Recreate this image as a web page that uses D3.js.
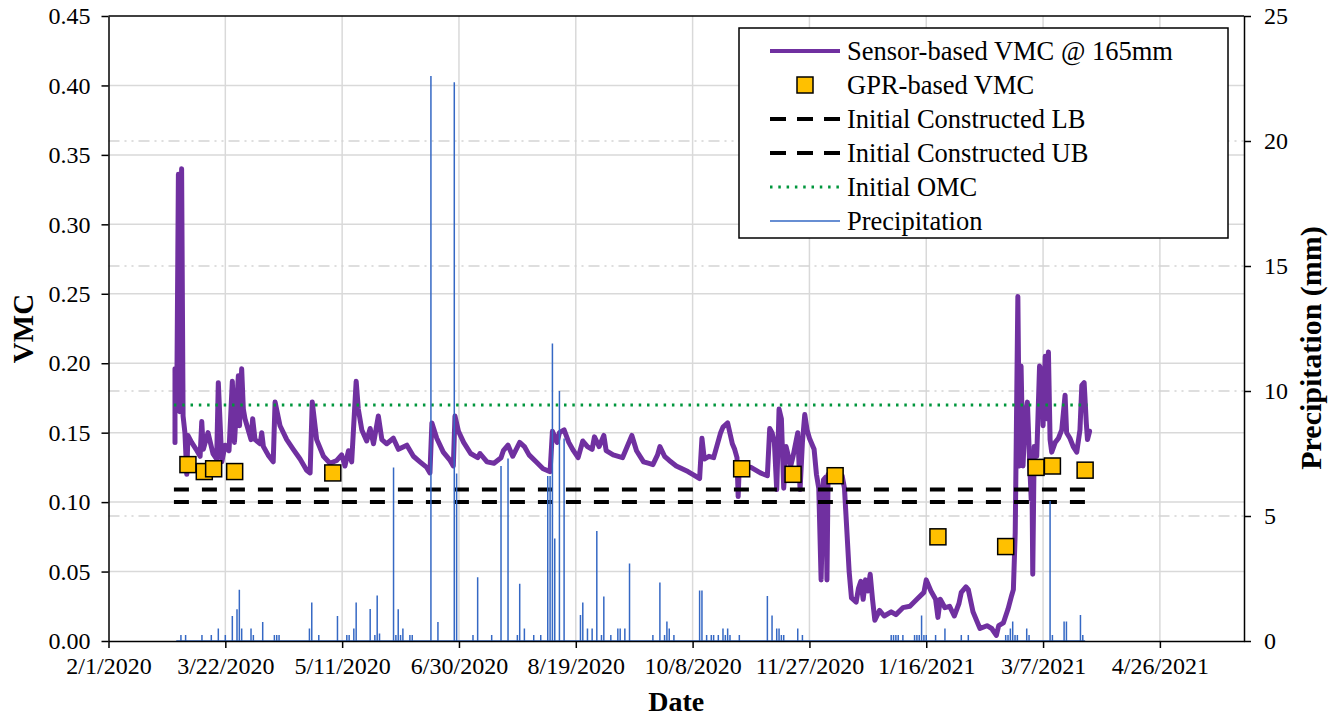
<!DOCTYPE html>
<html>
<head>
<meta charset="utf-8">
<script src="https://cdn.jsdelivr.net/npm/d3@7"></script>
<style>
  body { margin: 0; background: #fff; }
  svg text { font-family: "Liberation Serif", "Times New Roman", serif; fill: #000; }
</style>
</head>
<body>
<svg id="chart" width="1336" height="717"></svg>
<script>
// ---- data ----
const xTickLabels = ['2/1/2020', '3/22/2020', '5/11/2020', '6/30/2020', '8/19/2020', '10/8/2020',
                     '11/27/2020', '1/16/2021', '3/7/2021', '4/26/2021'];
const vmcTicks  = [0, 0.05, 0.10, 0.15, 0.20, 0.25, 0.30, 0.35, 0.40, 0.45];
const rainTicks = [0, 5, 10, 15, 20, 25];

const legendLabels = ['Sensor-based VMC @ 165mm', 'GPR-based VMC', 'Initial Constructed LB',
                      'Initial Constructed UB', 'Initial OMC', 'Precipitation'];

// initial construction bounds and optimum moisture
const lbValue  = 0.100;
const ubValue  = 0.109;
const omcValue = 0.170;
const refSpan  = ['2020-02-29', '2021-03-26'];

// sensor-based VMC @ 165 mm  [date (hour), VMC]
const sensorVMC = [
  ['2020-02-29 11', 0.143], ['2020-02-29 11', 0.196], ['2020-03-01 07', 0.190], ['2020-03-01 22', 0.336],
  ['2020-03-02 12', 0.165], ['2020-03-03 07', 0.340], ['2020-03-03 22', 0.162], ['2020-03-04 17', 0.150],
  ['2020-03-05 12', 0.120], ['2020-03-06 00', 0.148], ['2020-03-07 14', 0.143], ['2020-03-09 12', 0.138],
  ['2020-03-11 05', 0.133], ['2020-03-11 22', 0.158], ['2020-03-12 14', 0.138], ['2020-03-14 14', 0.150],
  ['2020-03-16 17', 0.135], ['2020-03-18 07', 0.131], ['2020-03-19 00', 0.186], ['2020-03-20 12', 0.129],
  ['2020-03-21 22', 0.141], ['2020-03-23 14', 0.137], ['2020-03-25 00', 0.187], ['2020-03-25 22', 0.143],
  ['2020-03-27 14', 0.191], ['2020-03-28 02', 0.155], ['2020-03-29 00', 0.196], ['2020-03-29 17', 0.167],
  ['2020-03-30 10', 0.160], ['2020-04-02 00', 0.145], ['2020-04-02 17', 0.160], ['2020-04-03 17', 0.145],
  ['2020-04-05 22', 0.142], ['2020-04-06 14', 0.150], ['2020-04-07 07', 0.140], ['2020-04-09 07', 0.134],
  ['2020-04-11 12', 0.129], ['2020-04-12 07', 0.172], ['2020-04-14 10', 0.155], ['2020-04-17 07', 0.145],
  ['2020-04-20 02', 0.138], ['2020-04-23 00', 0.131], ['2020-04-25 19', 0.123], ['2020-04-27 07', 0.121],
  ['2020-04-28 05', 0.172], ['2020-04-30 02', 0.145], ['2020-05-03 00', 0.133], ['2020-05-05 19', 0.128],
  ['2020-05-08 17', 0.130], ['2020-05-10 19', 0.134], ['2020-05-12 05', 0.126], ['2020-05-13 17', 0.137],
  ['2020-05-15 02', 0.129], ['2020-05-17 00', 0.187], ['2020-05-17 22', 0.167], ['2020-05-19 10', 0.152],
  ['2020-05-21 12', 0.144], ['2020-05-23 00', 0.153], ['2020-05-24 10', 0.142], ['2020-05-26 12', 0.162],
  ['2020-05-28 00', 0.145], ['2020-05-30 02', 0.142], ['2020-06-01 22', 0.146], ['2020-06-04 02', 0.138],
  ['2020-06-07 17', 0.141], ['2020-06-10 12', 0.133], ['2020-06-13 07', 0.129], ['2020-06-16 05', 0.125],
  ['2020-06-17 14', 0.121], ['2020-06-18 10', 0.157], ['2020-06-20 12', 0.146], ['2020-06-23 07', 0.136],
  ['2020-06-26 05', 0.130], ['2020-06-27 14', 0.126], ['2020-06-28 07', 0.162], ['2020-06-29 19', 0.151],
  ['2020-07-02', 0.143], ['2020-07-05', 0.135], ['2020-07-08', 0.132], ['2020-07-09', 0.135],
  ['2020-07-12', 0.129], ['2020-07-15', 0.128], ['2020-07-18', 0.132], ['2020-07-19', 0.137],
  ['2020-07-21', 0.141], ['2020-07-23', 0.133], ['2020-07-26', 0.143], ['2020-07-28', 0.140],
  ['2020-07-30', 0.134], ['2020-08-02', 0.129], ['2020-08-05', 0.124], ['2020-08-08', 0.122],
  ['2020-08-09', 0.151], ['2020-08-11', 0.143], ['2020-08-12', 0.150], ['2020-08-14', 0.152],
  ['2020-08-16', 0.143], ['2020-08-18', 0.137], ['2020-08-20', 0.132], ['2020-08-22', 0.144],
  ['2020-08-24', 0.140], ['2020-08-26', 0.138], ['2020-08-27', 0.147], ['2020-08-29', 0.140],
  ['2020-08-31', 0.148], ['2020-09-01', 0.137], ['2020-09-04', 0.134], ['2020-09-08', 0.132],
  ['2020-09-12', 0.148], ['2020-09-14', 0.137], ['2020-09-17', 0.129], ['2020-09-19', 0.128],
  ['2020-09-21', 0.127], ['2020-09-23', 0.134], ['2020-09-24', 0.140], ['2020-09-26', 0.133],
  ['2020-09-28', 0.130], ['2020-10-01', 0.126], ['2020-10-06', 0.122], ['2020-10-08', 0.120],
  ['2020-10-11', 0.117], ['2020-10-12', 0.146], ['2020-10-13', 0.131], ['2020-10-15', 0.133],
  ['2020-10-17', 0.132], ['2020-10-20', 0.150], ['2020-10-21', 0.154], ['2020-10-23', 0.157],
  ['2020-10-25', 0.142], ['2020-10-26', 0.138], ['2020-10-27', 0.132], ['2020-10-27 12', 0.104],
  ['2020-10-28', 0.127], ['2020-11-02', 0.125], ['2020-11-06', 0.121], ['2020-11-09', 0.119],
  ['2020-11-10', 0.153], ['2020-11-11', 0.150], ['2020-11-12', 0.143], ['2020-11-13', 0.109],
  ['2020-11-14', 0.167], ['2020-11-15', 0.160], ['2020-11-16', 0.110], ['2020-11-17', 0.140],
  ['2020-11-19', 0.126], ['2020-11-20', 0.133], ['2020-11-22', 0.150], ['2020-11-23', 0.109],
  ['2020-11-24', 0.143], ['2020-11-25', 0.163], ['2020-11-26', 0.152], ['2020-11-27', 0.146],
  ['2020-11-29', 0.138], ['2020-11-30', 0.120], ['2020-12-01', 0.110], ['2020-12-02', 0.044],
  ['2020-12-03', 0.116], ['2020-12-04', 0.118], ['2020-12-04 12', 0.044], ['2020-12-05', 0.120],
  ['2020-12-07', 0.121], ['2020-12-11', 0.119], ['2020-12-12', 0.110], ['2020-12-13', 0.080],
  ['2020-12-14', 0.050], ['2020-12-15', 0.031], ['2020-12-17', 0.028], ['2020-12-18', 0.038],
  ['2020-12-19', 0.043], ['2020-12-20', 0.030], ['2020-12-21', 0.044], ['2020-12-22', 0.036],
  ['2020-12-23', 0.048], ['2020-12-24', 0.030], ['2020-12-25', 0.015], ['2020-12-27', 0.022],
  ['2020-12-29', 0.018], ['2021-01-01', 0.021], ['2021-01-03', 0.019], ['2021-01-06', 0.024],
  ['2021-01-09', 0.025], ['2021-01-12', 0.030], ['2021-01-15', 0.035], ['2021-01-16', 0.044],
  ['2021-01-18', 0.036], ['2021-01-20', 0.030], ['2021-01-21', 0.017], ['2021-01-22', 0.030],
  ['2021-01-24', 0.024], ['2021-01-26', 0.025], ['2021-01-28', 0.018], ['2021-01-30', 0.027],
  ['2021-01-31', 0.035], ['2021-02-02', 0.039], ['2021-02-03', 0.037], ['2021-02-05', 0.021],
  ['2021-02-07', 0.013], ['2021-02-08', 0.009], ['2021-02-11', 0.011], ['2021-02-13', 0.009],
  ['2021-02-15', 0.004], ['2021-02-16', 0.011], ['2021-02-18', 0.013], ['2021-02-20', 0.023],
  ['2021-02-21 14', 0.033], ['2021-02-22 07', 0.037], ['2021-02-23 02', 0.078], ['2021-02-24 05', 0.248],
  ['2021-02-24 22', 0.126], ['2021-02-25 14', 0.198], ['2021-02-26 10', 0.126], ['2021-02-27 07', 0.160],
  ['2021-02-28 07', 0.172], ['2021-03-01 02', 0.136], ['2021-03-01 22', 0.102], ['2021-03-02 05', 0.126],
  ['2021-03-02 14', 0.048], ['2021-03-03 05', 0.140], ['2021-03-04 07', 0.133], ['2021-03-05 12', 0.198],
  ['2021-03-06 12', 0.193], ['2021-03-07 00', 0.155], ['2021-03-07 22', 0.205], ['2021-03-08 12', 0.160],
  ['2021-03-09 07', 0.208], ['2021-03-10 00', 0.145], ['2021-03-10 17', 0.136], ['2021-03-12 05', 0.143],
  ['2021-03-13 14', 0.146], ['2021-03-15 00', 0.152], ['2021-03-16 10', 0.177], ['2021-03-17 02', 0.150],
  ['2021-03-18 12', 0.146], ['2021-03-19 22', 0.140], ['2021-03-21 10', 0.136], ['2021-03-22 19', 0.152],
  ['2021-03-23 14', 0.184], ['2021-03-24 14', 0.186], ['2021-03-25 12', 0.157], ['2021-03-26 00', 0.145],
  ['2021-03-26 22', 0.151]
];

// GPR-based VMC  [date, VMC]
const gprVMC = [
  ['2020-03-06', 0.127], ['2020-03-13', 0.122], ['2020-03-17', 0.124], ['2020-03-26', 0.122],
  ['2020-05-07', 0.121], ['2020-10-29', 0.124], ['2020-11-20', 0.120], ['2020-12-08', 0.119],
  ['2021-01-21', 0.075], ['2021-02-19', 0.068], ['2021-03-04', 0.125], ['2021-03-11', 0.126],
  ['2021-03-25', 0.123]
];

// daily precipitation (mm); days not listed had none
const rainSpan = ['2020-03-01', '2021-03-25'];
const rainEvents = [
  ['2020-03-03', 0.24], ['2020-03-05', 0.24], ['2020-03-12', 0.24], ['2020-03-16', 0.24], ['2020-03-19', 0.5],
  ['2020-03-22', 0.24], ['2020-03-25', 1.0], ['2020-03-27', 1.27], ['2020-03-28', 2.05], ['2020-03-29', 0.5],
  ['2020-04-02', 0.5], ['2020-04-03', 0.24], ['2020-04-07', 0.76], ['2020-04-12', 0.24], ['2020-04-13', 0.24],
  ['2020-04-14', 0.24], ['2020-04-27', 0.5], ['2020-04-28', 1.54], ['2020-05-01', 0.24], ['2020-05-09', 1.0],
  ['2020-05-13', 0.24], ['2020-05-14', 0.24], ['2020-05-16', 0.5], ['2020-05-17', 1.54], ['2020-05-23', 1.28],
  ['2020-05-25', 0.24], ['2020-05-26', 1.82], ['2020-05-27', 0.3], ['2020-06-02', 6.94], ['2020-06-03', 0.24],
  ['2020-06-04', 1.27], ['2020-06-05', 0.24], ['2020-06-06', 0.5], ['2020-06-09', 0.24], ['2020-06-10', 0.24],
  ['2020-06-18', 22.6], ['2020-06-21', 0.76], ['2020-06-28', 22.35], ['2020-06-29', 6.7], ['2020-07-06', 0.24],
  ['2020-07-08', 2.55], ['2020-07-14', 0.24], ['2020-07-18', 7.0], ['2020-07-21', 7.3], ['2020-07-25', 0.24],
  ['2020-07-26', 2.29], ['2020-07-28', 0.5], ['2020-08-01', 0.24], ['2020-08-04', 0.24], ['2020-08-07', 6.6],
  ['2020-08-08', 6.6], ['2020-08-09', 11.9], ['2020-08-10', 4.1], ['2020-08-12', 10.0], ['2020-08-14', 8.1],
  ['2020-08-21', 1.04], ['2020-08-22', 1.54], ['2020-08-24', 0.5], ['2020-08-26', 0.5], ['2020-08-28', 4.4],
  ['2020-08-30', 0.24], ['2020-08-31', 1.78], ['2020-09-03', 0.24], ['2020-09-06', 0.5], ['2020-09-07', 0.5],
  ['2020-09-09', 0.5], ['2020-09-11', 3.1], ['2020-09-21', 0.24], ['2020-09-24', 2.34], ['2020-09-26', 0.24],
  ['2020-09-27', 0.78], ['2020-09-28', 0.5], ['2020-09-30', 0.24], ['2020-10-11', 2.02], ['2020-10-12', 2.02],
  ['2020-10-14', 0.24], ['2020-10-16', 0.24], ['2020-10-17', 0.24], ['2020-10-19', 0.24], ['2020-10-21', 0.5],
  ['2020-10-22', 0.24], ['2020-10-23', 0.5], ['2020-10-24', 0.24], ['2020-10-28', 0.24], ['2020-11-09', 1.8],
  ['2020-11-11', 1.02], ['2020-11-13', 0.5], ['2020-11-14', 0.5], ['2020-11-15', 0.24], ['2020-11-16', 0.24],
  ['2020-11-22', 0.5], ['2020-11-24', 0.24], ['2021-01-01', 0.24], ['2021-01-02', 0.24], ['2021-01-03', 0.24],
  ['2021-01-04', 0.24], ['2021-01-06', 0.24], ['2021-01-11', 0.24], ['2021-01-12', 0.24], ['2021-01-13', 0.24],
  ['2021-01-14', 1.02], ['2021-01-15', 0.24], ['2021-01-16', 0.24], ['2021-01-20', 0.24], ['2021-01-24', 0.5],
  ['2021-01-31', 0.24], ['2021-02-03', 0.24], ['2021-02-19', 0.24], ['2021-02-20', 0.24], ['2021-02-21', 0.5],
  ['2021-02-22', 0.78], ['2021-02-23', 0.24], ['2021-02-24', 0.24], ['2021-02-28', 0.5], ['2021-03-01', 0.24],
  ['2021-03-10', 5.6], ['2021-03-11', 0.24], ['2021-03-16', 0.78], ['2021-03-17', 0.78], ['2021-03-23', 1.04],
  ['2021-03-24', 0.24]
];

// ---- setup ----
const W = 1336, H = 717;
const plot = { left: 108.5, right: 1244, top: 16, bottom: 641 };
const serif = 'Liberation Serif, Times New Roman, serif';

const parseHour = d3.timeParse('%Y-%m-%d %H');
const parseDay  = d3.timeParse('%Y-%m-%d');
const toDate    = s => parseHour(s) || parseDay(s);
const parseTick = d3.timeParse('%m/%d/%Y');
const xTicks    = xTickLabels.map(parseTick);

const x  = d3.scaleTime().domain([new Date(2020, 1, 1), new Date(2021, 5, 1)]).range([plot.left, plot.right]);
const yL = d3.scaleLinear().domain([0, 0.45]).range([plot.bottom, plot.top]);
const yR = d3.scaleLinear().domain([0, 25]).range([plot.bottom, plot.top]);

const colors = { sensor: '#7030A0', gpr: '#FFC000', bound: '#000', omc: '#00963C', rain: '#3568C4', grid: '#D9D9D9' };

const svg = d3.select('#chart').attr('viewBox', `0 0 ${W} ${H}`);

// ---- gridlines ----
const grid = svg.append('g');
grid.selectAll('.vgrid').data(xTicks.slice(1)).enter().append('line')
  .attr('x1', d => x(d)).attr('x2', d => x(d))
  .attr('y1', plot.top).attr('y2', plot.bottom)
  .attr('stroke', colors.grid).attr('stroke-width', 1.5);
grid.selectAll('.hgrid').data(vmcTicks.slice(1, -1)).enter().append('line')
  .attr('x1', plot.left).attr('x2', plot.right)
  .attr('y1', d => yL(d)).attr('y2', d => yL(d))
  .attr('stroke', colors.grid).attr('stroke-width', 1.5);
grid.selectAll('.rgrid').data(rainTicks.slice(1, -1)).enter().append('line')
  .attr('x1', plot.left).attr('x2', plot.right)
  .attr('y1', d => yR(d)).attr('y2', d => yR(d))
  .attr('stroke', '#D3D3D3').attr('stroke-width', 1.5)
  .attr('stroke-dasharray', '11,5,2,5,2,5');

// ---- series ----
const line = d3.line().x(d => x(toDate(d[0]))).y(d => yL(d[1]));

svg.append('path').datum(sensorVMC)
  .attr('d', line)
  .attr('fill', 'none').attr('stroke', colors.sensor)
  .attr('stroke-width', 5).attr('stroke-linejoin', 'round').attr('stroke-linecap', 'round');

svg.selectAll('.gpr').data(gprVMC).enter().append('rect')
  .attr('x', d => x(toDate(d[0])) - 8).attr('y', d => yL(d[1]) - 8)
  .attr('width', 16).attr('height', 16)
  .attr('fill', colors.gpr).attr('stroke', '#000').attr('stroke-width', 1.5);

const refLine = v => refSpan.map(s => [s, v]);
[lbValue, ubValue].forEach(v => {
  svg.append('path').datum(refLine(v)).attr('d', line)
    .attr('fill', 'none').attr('stroke', colors.bound).attr('stroke-width', 4)
    .attr('stroke-dasharray', '15,13');
});
svg.append('path').datum(refLine(omcValue)).attr('d', line)
  .attr('fill', 'none').attr('stroke', colors.omc).attr('stroke-width', 3)
  .attr('stroke-dasharray', '2.5,5.8');

// precipitation on the secondary axis
const rainBase = svg.append('g');
rainBase.append('line')
  .attr('x1', x(parseDay(rainSpan[0]))).attr('x2', x(parseDay(rainSpan[1])))
  .attr('y1', yR(0)).attr('y2', yR(0))
  .attr('stroke', colors.rain).attr('stroke-width', 1.5);
rainBase.selectAll('.rain').data(rainEvents).enter().append('line')
  .attr('x1', d => x(parseDay(d[0]))).attr('x2', d => x(parseDay(d[0])))
  .attr('y1', yR(0)).attr('y2', d => yR(d[1]))
  .attr('stroke', colors.rain).attr('stroke-width', 1.5);

// ---- axes ----
const styleAxis = g => {
  g.attr('font-family', serif).attr('font-size', 24);
  g.selectAll('path, line').attr('stroke', '#000').attr('stroke-width', 1.5);
  g.selectAll('text').attr('fill', '#000');
};

svg.append('g').attr('transform', `translate(${plot.left},0)`)
  .call(d3.axisLeft(yL).tickValues(vmcTicks).tickFormat(d3.format('.2f')).tickSize(7).tickSizeOuter(0).tickPadding(11))
  .call(styleAxis);

svg.append('g').attr('transform', `translate(${plot.right},0)`)
  .call(d3.axisRight(yR).tickValues(rainTicks).tickSize(7).tickSizeOuter(0).tickPadding(13))
  .call(styleAxis);

svg.append('g').attr('transform', `translate(0,${plot.bottom})`)
  .call(d3.axisBottom(x).tickValues(xTicks).tickFormat((d, i) => xTickLabels[i]).tickSize(7).tickSizeOuter(0).tickPadding(9))
  .call(styleAxis);

svg.append('line')
  .attr('x1', plot.left).attr('x2', plot.right).attr('y1', plot.top).attr('y2', plot.top)
  .attr('stroke', '#000').attr('stroke-width', 1.5);

// axis titles
svg.append('text').text('VMC')
  .attr('transform', `translate(33,${(plot.top + plot.bottom) / 2}) rotate(-90)`)
  .attr('text-anchor', 'middle').attr('font-size', 29).attr('font-weight', 'bold');
svg.append('text').text('Precipitation (mm)')
  .attr('transform', `translate(1321,348) rotate(-90)`)
  .attr('text-anchor', 'middle').attr('font-size', 30).attr('font-weight', 'bold');
svg.append('text').text('Date')
  .attr('x', (plot.left + plot.right) / 2).attr('y', 711)
  .attr('text-anchor', 'middle').attr('font-size', 28).attr('font-weight', 'bold');

// ---- legend ----
const legend = svg.append('g').attr('transform', 'translate(739,28)');
legend.append('rect').attr('width', 489).attr('height', 210)
  .attr('fill', '#fff').attr('stroke', '#000').attr('stroke-width', 1.5);

const rowY = i => 23 + i * 34;
const symbols = [
  { stroke: colors.sensor, width: 4 },
  null,
  { stroke: colors.bound, width: 4, dash: '16,11' },
  { stroke: colors.bound, width: 4, dash: '16,11' },
  { stroke: colors.omc, width: 3, dash: '2.5,5.8' },
  { stroke: colors.rain, width: 1.5 }
];
legendLabels.forEach((label, i) => {
  const s = symbols[i];
  if (s) {
    legend.append('line')
      .attr('x1', 31).attr('x2', 101).attr('y1', rowY(i)).attr('y2', rowY(i))
      .attr('stroke', s.stroke).attr('stroke-width', s.width)
      .attr('stroke-dasharray', s.dash || null);
  } else {
    legend.append('rect')
      .attr('x', 58).attr('y', rowY(i) - 8).attr('width', 16).attr('height', 16)
      .attr('fill', colors.gpr).attr('stroke', '#000').attr('stroke-width', 1.5);
  }
  legend.append('text').text(label)
    .attr('x', 108).attr('y', rowY(i)).attr('dy', '0.35em')
    .attr('font-size', 26.5);
});
</script>
</body>
</html>
